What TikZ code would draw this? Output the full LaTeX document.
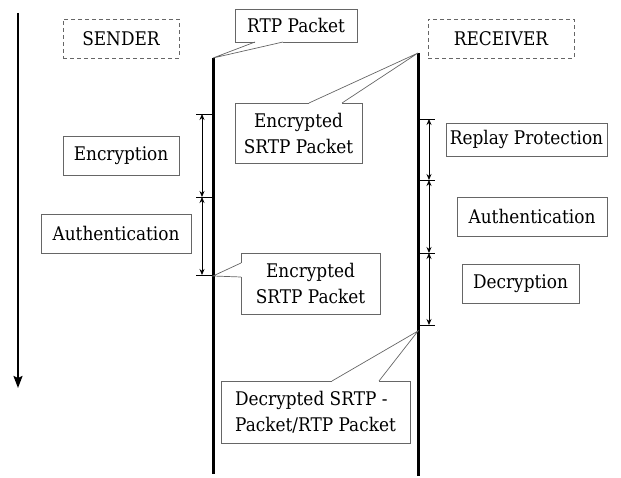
\documentclass[tikz,border=0pt]{standalone}
\usepackage{fontspec}
\setmainfont{DejaVu Serif}[FakeStretch=0.9]
\usetikzlibrary{calc,arrows.meta}

\tikzset{
  box/.style={draw=black!60,line width=0.8pt,inner sep=0pt,align=center,font=\fontsize{18.8}{26}\selectfont},
  dbox/.style={box,dash pattern=on 4pt off 3pt},
  life/.style={line width=3pt},
  span/.style={{Stealth[length=6pt,width=5pt]}-{Stealth[length=6pt,width=5pt]},line width=0.8pt},
  tickln/.style={line width=0.8pt},
  ptr/.style={draw=black!60,line width=0.7pt}
}
% pointer of a callout: base point, base point, tip
\newcommand\callptr[3]{%
  \draw[white,line width=1.6pt] (#1) -- (#2);
  \draw[ptr] (#1) -- (#3) -- (#2);}

\begin{document}
\begin{tikzpicture}[x=1pt,y=-1pt]
\useasboundingbox (0,0) rectangle (621,478);

% time axis
\coordinate (ttop) at (18,13);
\coordinate (tbot) at (18,388);
\draw[line width=1.8pt,-{Stealth[length=12pt,width=9pt,inset=2pt]}] (ttop) -- (tbot);

% the two parties
\node[dbox,minimum width=116,minimum height=39] (sender) at (121,38.5) {SENDER};
\node[dbox,minimum width=146,minimum height=39] (receiver) at (501,38.5) {RECEIVER};

% life lines
\coordinate (stop) at (213,58);
\coordinate (sbot) at (213,474);
\coordinate (rtop) at (418,53);
\coordinate (rbot) at (418,476);
\draw[life] (stop) -- (sbot);
\draw[life] (rtop) -- (rbot);

% steps at the sender
\foreach \y [count=\i] in {114,197,275} {
  \coordinate (s\i) at (202,\y);
  \draw[tickln] (196,\y) -- (213,\y);
}
\draw[span] (s1) -- (s2);
\draw[span] (s2) -- (s3);
\node[box,minimum width=116,minimum height=39] (enc) at (121,155.5) {Encryption};
\node[box,minimum width=150,minimum height=39] (authl) at (116,233.5) {Authentication};

% steps at the receiver
\foreach \y [count=\i] in {119,180,253,325} {
  \coordinate (r\i) at (429,\y);
  \draw[tickln] (418,\y) -- (435,\y);
}
\draw[span] (r1) -- (r2);
\draw[span] (r2) -- (r3);
\draw[span] (r3) -- (r4);
\node[box,minimum width=161,minimum height=33] (replay) at (526.5,139.5) {Replay Protection};
\node[box,minimum width=150,minimum height=39] (authr) at (532,216.5) {Authentication};
\node[box,minimum width=117,minimum height=39] (dec) at (520.5,283.5) {Decryption};

% packets
\node[box,minimum width=122,minimum height=33] (rtp) at (296,25.5) {RTP Packet};
\coordinate (rtpa) at (255,42);
\coordinate (rtpb) at (283,42);
\callptr{rtpa}{rtpb}{stop}

\node[box,minimum width=127,minimum height=60] (srtpa) at (298.5,133) {Encrypted\\SRTP Packet};
\coordinate (srtpaa) at (309,103);
\coordinate (srtpab) at (342,103);
\callptr{srtpaa}{srtpab}{rtop}

\node[box,minimum width=139,minimum height=61] (srtpb) at (310.5,283.5) {Encrypted\\SRTP Packet};
\coordinate (srtpba) at (241,263);
\coordinate (srtpbb) at (241,277);
\coordinate (srtpbt) at (213,276);
\callptr{srtpba}{srtpbb}{srtpbt}

\node[box,align=left,minimum width=189,minimum height=62] (decp) at (315.5,412) {Decrypted SRTP -\\Packet/RTP Packet};
\coordinate (decpa) at (332,381);
\coordinate (decpb) at (379,381);
\coordinate (decpt) at (418,331);
\callptr{decpa}{decpb}{decpt}
\end{tikzpicture}
\end{document}
